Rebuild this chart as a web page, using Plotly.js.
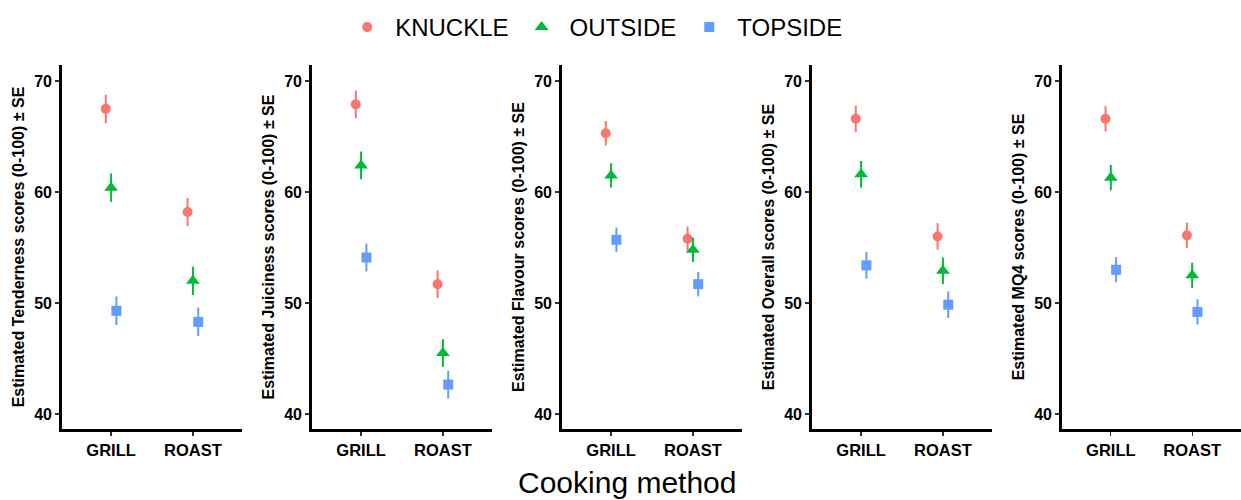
<!DOCTYPE html>
<html>
<head>
<meta charset="utf-8">
<script src="https://cdn.plot.ly/plotly-3.0.1.min.js"></script>
<style>html,body{margin:0;padding:0;background:#fff}#chart{width:1241px;height:500px}</style>
</head>
<body>
<div id="chart"></div>
<script>
// ---- data ----
const categories = ['GRILL', 'ROAST'];
const cuts = ['KNUCKLE', 'OUTSIDE', 'TOPSIDE'];
const traits = ['Tenderness', 'Juiciness', 'Flavour', 'Overall', 'MQ4'];

// estimated means [GRILL, ROAST] per cut, per trait
const tendernessKnuckle = [67.5, 58.2];
const tendernessOutside = [60.4, 52.0];
const tendernessTopside = [49.3, 48.3];
const juicinessKnuckle = [67.9, 51.7];
const juicinessOutside = [62.4, 45.5];
const juicinessTopside = [54.1, 42.65];
const flavourKnuckle = [65.3, 55.8];
const flavourOutside = [61.5, 54.8];
const flavourTopside = [55.7, 51.7];
const overallKnuckle = [66.6, 56.0];
const overallOutside = [61.6, 52.9];
const overallTopside = [53.4, 49.85];
const mq4Knuckle = [66.6, 56.1];
const mq4Outside = [61.3, 52.5];
const mq4Topside = [53.0, 49.2];

// standard errors per trait
const seTenderness = [1.28, 1.28];
const seJuiciness = [1.25, 1.25];
const seFlavour = [1.1, 1.1];
const seOverall = [1.2, 1.2];
const seMQ4 = [1.14, 1.14];

const yTicks = [40, 50, 60, 70];

// ---- assemble ----
const means = [
  [tendernessKnuckle, tendernessOutside, tendernessTopside],
  [juicinessKnuckle, juicinessOutside, juicinessTopside],
  [flavourKnuckle, flavourOutside, flavourTopside],
  [overallKnuckle, overallOutside, overallTopside],
  [mq4Knuckle, mq4Outside, mq4Topside]
];
const ses = [seTenderness, seJuiciness, seFlavour, seOverall, seMQ4];

const colors = ['#F8766D', '#00BA38', '#619CFF'];
const symbols = ['circle', 'triangle-up', 'square'];
const sizes = [10, 12, 10];
const dodge = [-0.065, 0, 0.065];

const W = 1241, H = 500;
const FONT = 'Liberation Sans, Arial, sans-serif';
const traces = [];
const layout = {
  width: W, height: H,
  margin: {l: 0, r: 0, t: 0, b: 0},
  paper_bgcolor: '#fff', plot_bgcolor: '#fff',
  font: {family: FONT, color: '#000'},
  showlegend: true,
  legend: {orientation: 'h', x: 0.478, xanchor: 'center', y: 0.99, yanchor: 'top',
           font: {size: 24, color: '#000'}, itemwidth: 46, tracegroupgap: 0},
  annotations: [{text: 'Cooking method', xref: 'paper', yref: 'paper', x: 0.505, y: 0.036,
                 xanchor: 'center', yanchor: 'middle', showarrow: false,
                 font: {size: 30, color: '#000'}}]
};

traits.forEach((t, p) => {
  const ax = p === 0 ? '' : String(p + 1);
  cuts.forEach((c, s) => {
    traces.push({
      type: 'scatter', mode: 'markers',
      name: c, legendgroup: c, showlegend: p === 0,
      x: categories.map((_, i) => i + 1 + dodge[s]),
      y: means[p][s],
      error_y: {type: 'data', array: ses[p], visible: true, width: 0, thickness: 2, color: colors[s]},
      marker: {color: colors[s], symbol: symbols[s], size: sizes[s]},
      xaxis: 'x' + ax, yaxis: 'y' + ax
    });
  });
  const x0 = (62 + 250 * p) / W, x1 = Math.min(1, (242 + 250 * p) / W);
  layout['xaxis' + ax] = {
    domain: [x0, x1], anchor: 'y' + ax, range: [0.4, 2.6],
    tickvals: categories.map((_, i) => i + 1), ticktext: categories,
    showgrid: false, zeroline: false, showline: true, linecolor: '#000', linewidth: 2.8,
    ticks: 'outside', ticklen: 4, tickwidth: 1.2, tickcolor: '#333',
    tickfont: {size: 16.5, color: '#000', family: FONT, weight: 'bold'},
    fixedrange: true
  };
  layout['yaxis' + ax] = {
    domain: [1 - 429 / H, 1 - 65 / H], anchor: 'x' + ax, range: [38.65, 71.45],
    tickvals: yTicks, showgrid: false, zeroline: false, showline: true, linecolor: '#000', linewidth: 2.8,
    ticks: 'outside', ticklen: 4, tickwidth: 1.2, tickcolor: '#333',
    tickfont: {size: 16, color: '#000', family: FONT, weight: 'bold'},
    title: {text: 'Estimated ' + t + ' scores (0-100) ± SE', standoff: 6,
            font: {size: 16, color: '#000', family: FONT, weight: 'bold'}},
    fixedrange: true
  };
});

Plotly.newPlot('chart', traces, layout, {staticPlot: true});
</script>
</body>
</html>
